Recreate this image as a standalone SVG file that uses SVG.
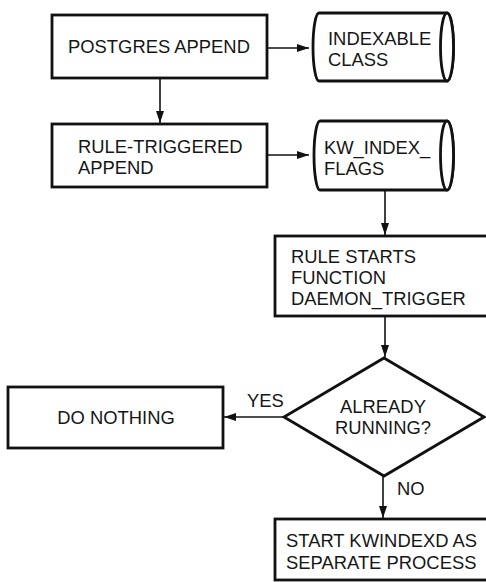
<svg xmlns="http://www.w3.org/2000/svg" width="486" height="582" viewBox="0 0 486 582">
  <defs>
    <style>
      .box { fill: #ffffff; stroke: #111111; stroke-width: 2.8; }
      .link { fill: none; stroke: #111111; stroke-width: 1.6; }
      text { font-family: "Liberation Sans", Arial, Helvetica, sans-serif; font-size: 18.4px; fill: #161616; }
      .mid { text-anchor: middle; }
    </style>
    <marker id="arrow" markerWidth="13" markerHeight="10" refX="12" refY="5" orient="auto" markerUnits="userSpaceOnUse">
      <path d="M0,1 L12,5 L0,9 Z" fill="#111111"/>
    </marker>
  </defs>
  <rect width="486" height="582" fill="#ffffff"/>

  <!-- connectors -->
  <g id="connectors">
    <line class="link" x1="267" y1="48" x2="309" y2="48" marker-end="url(#arrow)"/>
    <line class="link" x1="160" y1="78" x2="160" y2="123" marker-end="url(#arrow)"/>
    <line class="link" x1="267" y1="155" x2="309" y2="155" marker-end="url(#arrow)"/>
    <line class="link" x1="385" y1="190" x2="385" y2="235" marker-end="url(#arrow)"/>
    <line class="link" x1="385" y1="316" x2="385" y2="357" marker-end="url(#arrow)"/>
    <line class="link" x1="284" y1="417" x2="224" y2="417" marker-end="url(#arrow)"/>
    <line class="link" x1="383" y1="476" x2="383" y2="518" marker-end="url(#arrow)"/>
    <text x="247" y="407">YES</text>
    <text x="397" y="495">NO</text>
  </g>

  <g id="postgres-append">
    <rect class="box" x="52" y="15" width="215" height="63"/>
    <text x="68" y="53">POSTGRES APPEND</text>
  </g>

  <g id="indexable-class">
    <path class="box" d="M319,13 L447,13 A6.5,34 0 0 1 447,81 L319,81 A6,34 0 0 1 319,13 Z"/>
    <ellipse class="box" cx="447" cy="47" rx="6.5" ry="34"/>
    <text x="328" y="45">INDEXABLE</text>
    <text x="328" y="66">CLASS</text>
  </g>

  <g id="rule-triggered-append">
    <rect class="box" x="52" y="124" width="215" height="63"/>
    <text x="78" y="153">RULE-TRIGGERED</text>
    <text x="78" y="174">APPEND</text>
  </g>

  <g id="kw-index-flags">
    <path class="box" d="M320,121 L447,121 A6.5,34.5 0 0 1 447,190 L320,190 A6,34.5 0 0 1 320,121 Z"/>
    <ellipse class="box" cx="447" cy="155.5" rx="6.5" ry="34.5"/>
    <text x="324" y="154">KW_INDEX_</text>
    <text x="324" y="175">FLAGS</text>
  </g>

  <g id="rule-starts-function">
    <rect class="box" x="275" y="236" width="230" height="80"/>
    <text x="291" y="263">RULE STARTS</text>
    <text x="291" y="284">FUNCTION</text>
    <text x="291" y="305">DAEMON_TRIGGER</text>
  </g>

  <g id="already-running">
    <polygon class="box" points="384,358 484,417 384,476 284,417"/>
    <text class="mid" x="383" y="413">ALREADY</text>
    <text class="mid" x="383" y="434">RUNNING?</text>
  </g>

  <g id="do-nothing">
    <rect class="box" x="8" y="387" width="215" height="61"/>
    <text class="mid" x="116" y="424">DO NOTHING</text>
  </g>

  <g id="start-kwindexd">
    <rect class="box" x="275" y="519" width="230" height="61"/>
    <text x="286" y="547">START KWINDEXD AS</text>
    <text x="286" y="569">SEPARATE PROCESS</text>
  </g>
</svg>
